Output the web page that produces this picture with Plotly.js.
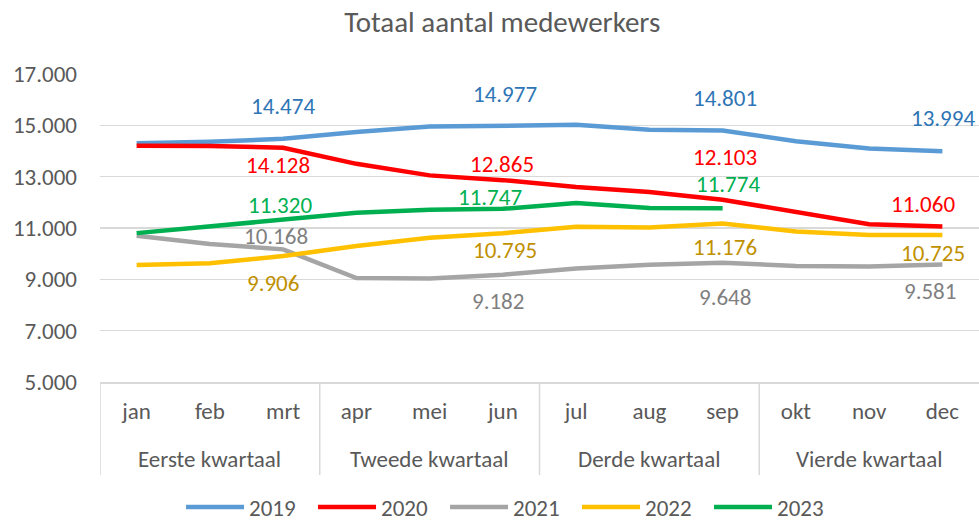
<!DOCTYPE html>
<html>
<head>
<meta charset="utf-8">
<script src="https://cdn.plot.ly/plotly-3.0.1.min.js"></script>
<style>html,body{margin:0;padding:0;background:#fff;}#chart{width:979px;height:521px;}</style>
</head>
<body>
<div id="chart"></div>
<script>
var months = ['jan','feb','mrt','apr','mei','jun','jul','aug','sep','okt','nov','dec'];
var quarters = ['Eerste kwartaal','Tweede kwartaal','Derde kwartaal','Vierde kwartaal'];
var years = ['2019','2020','2021','2022','2023'];

var v2019 = [14300, 14360, 14474, 14740, 14950, 14977, 15020, 14830, 14801, 14380, 14100, 13994];
var v2020 = [14200, 14190, 14128, 13500, 13050, 12865, 12600, 12400, 12103, 11630, 11150, 11060];
var v2021 = [10700, 10380, 10168, 9050, 9030, 9182, 9420, 9570, 9648, 9520, 9500, 9581];
var v2022 = [9560, 9630, 9906, 10300, 10620, 10795, 11050, 11020, 11176, 10860, 10730, 10725];
var v2023 = [10800, 11070, 11320, 11590, 11710, 11747, 11970, 11780, 11774, null, null, null];

var series = [v2019, v2020, v2021, v2022, v2023];
var lineColors = ['#5B9BD5', '#FF0000', '#A5A5A5', '#FFC000', '#00B050'];
var labelColors = ['#2E75B6', '#FF0000', '#7F7F7F', '#BF9000', '#00B050'];

// label offsets (px) at the quarter-end months: [xshift, yshift] per series per quarter
var labelOffsets = [
  [[0, 33], [2, 32], [2, 32], [1, 33]],
  [[-5, -17], [-1, 16], [2, 43], [-19, 22]],
  [[-7, 13], [-5, -26], [2, -34], [-12, -27]],
  [[-10, -27], [2, -17], [2, -24], [-9, -18]],
  [[-3, 15], [-13, 12], [5, 24], [0, 0]]
];

var fontFam = "Carlito, Calibri, 'Noto Sans', 'Liberation Sans', sans-serif";
var textCol = '#595959';
var gridCol = '#d9d9d9';

var traces = series.map(function (vals, s) {
  return {
    type: 'scatter', mode: 'lines', name: years[s],
    x: months, y: vals,
    line: {color: lineColors[s], width: 4.5},
    connectgaps: false, hoverinfo: 'skip'
  };
});

var annotations = [];
series.forEach(function (vals, s) {
  for (var q = 0; q < 4; q++) {
    var idx = q * 3 + 2;
    if (vals[idx] === null) continue;
    annotations.push({
      xref: 'x', yref: 'y', x: months[idx], y: vals[idx],
      text: vals[idx].toLocaleString('nl-NL'),
      showarrow: false,
      xshift: labelOffsets[s][q][0], yshift: labelOffsets[s][q][1],
      font: {family: fontFam, size: 23, color: labelColors[s]}
    });
  }
});

// quarter group labels and dividers under the month axis
var shapes = [];
quarters.forEach(function (qName, q) {
  annotations.push({
    xref: 'x', yref: 'paper', x: months[q * 3 + 1], y: 0,
    yanchor: 'middle', yshift: -77, showarrow: false,
    text: qName, font: {family: fontFam, size: 23, color: textCol}
  });
  shapes.push({
    type: 'line', xref: 'x', yref: 'paper', ysizemode: 'pixel', yanchor: 0,
    x0: q * 3 - 0.5, x1: q * 3 - 0.5, y0: 0, y1: -93,
    line: {color: gridCol, width: 1.5}
  });
});

var layout = {
  width: 979, height: 521,
  margin: {l: 100, r: 0, t: 74, b: 139},
  paper_bgcolor: '#ffffff', plot_bgcolor: '#ffffff',
  separators: ',.',
  font: {family: fontFam, size: 23, color: textCol},
  title: {
    text: 'Totaal aantal medewerkers',
    font: {family: fontFam, size: 29, color: textCol},
    x: 0.513, xref: 'container', xanchor: 'center',
    y: 0.958, yref: 'container', yanchor: 'middle'
  },
  xaxis: {
    type: 'category',
    showgrid: false, zeroline: false,
    showline: true, linecolor: gridCol, linewidth: 1.5,
    ticks: '', ticklabelstandoff: 8,
    tickfont: {family: fontFam, size: 23, color: textCol},
    range: [-0.5, 11.5]
  },
  yaxis: {
    range: [5000, 17000], tickvals: [5000, 7000, 9000, 11000, 13000, 15000, 17000],
    tickformat: ',d', showgrid: true, gridcolor: gridCol, gridwidth: 1.5,
    zeroline: false, showline: false, ticks: '',
    ticklabelstandoff: 22,
    tickfont: {family: fontFam, size: 23, color: textCol}
  },
  legend: {
    orientation: 'h', x: 0.522, xref: 'container', xanchor: 'center',
    y: 0.027, yref: 'container', yanchor: 'middle',
    font: {family: fontFam, size: 23, color: textCol},
    itemwidth: 58, entrywidth: 59, traceorder: 'normal'
  },
  annotations: annotations,
  shapes: shapes,
  showlegend: true
};

Plotly.newPlot('chart', traces, layout, {displayModeBar: false, staticPlot: true});
</script>
</body>
</html>
